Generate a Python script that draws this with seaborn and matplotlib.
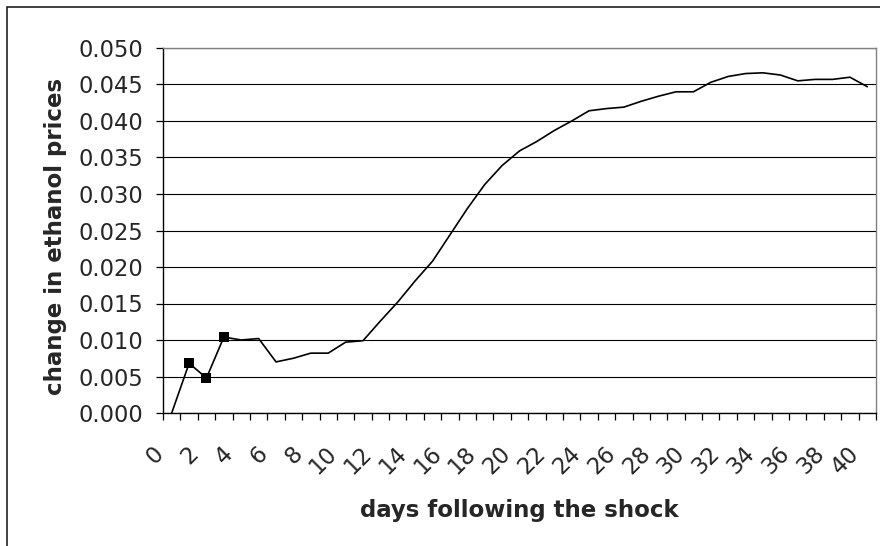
import matplotlib
matplotlib.use("Agg")
import matplotlib.pyplot as plt
import matplotlib.transforms as mtransforms
from matplotlib.patches import Rectangle
from matplotlib.ticker import FormatStrFormatter, MultipleLocator
import seaborn as sns

# days after the shock and the response of ethanol prices
days = list(range(0, 41))
price_change = [
    0.0000, 0.0068, 0.0048, 0.0104, 0.0100, 0.0102, 0.0070, 0.0075, 0.0082, 0.0082,
    0.0097, 0.0099, 0.0126, 0.0152, 0.0181, 0.0208, 0.0244, 0.0280, 0.0313, 0.0339,
    0.0359, 0.0372, 0.0387, 0.0400, 0.0414, 0.0417, 0.0419, 0.0427, 0.0434, 0.0440,
    0.0440, 0.0453, 0.0461, 0.0465, 0.0466, 0.0463, 0.0455, 0.0457, 0.0457, 0.0460,
    0.0447,
]
# days drawn with a square marker
marked_days = [1, 2, 3]
marked_values = [price_change[d] for d in marked_days]
tick_days = list(range(0, 41, 2))

sns.set_style("white")
plt.rcParams["font.family"] = ["DejaVu Sans"]

fig = plt.figure(figsize=(8.8, 5.46), dpi=100)
ax = fig.add_axes([163 / 880, 1 - 413 / 546, (876 - 163) / 880, (413 - 48) / 546])

sns.lineplot(x=days, y=price_change, color="black", linewidth=1.2, ax=ax)
sns.scatterplot(x=marked_days, y=marked_values, marker="s", s=52, color="black",
                edgecolor="black", linewidth=0, ax=ax, zorder=5)

ax.set_xlim(-0.5, 40.5)
ax.set_ylim(0, 0.05)
ax.yaxis.set_major_locator(MultipleLocator(0.005))
ax.yaxis.set_major_formatter(FormatStrFormatter("%.3f"))
ax.grid(axis="y", color="black", linewidth=0.8)
ax.set_axisbelow(True)

ax.set_xticks(tick_days)
ax.set_xticklabels([str(d) for d in tick_days], rotation=45, ha="right",
                   va="center", rotation_mode="anchor", fontsize=16.3)
ax.set_xticks([d - 0.5 for d in range(0, 42)], minor=True)
ax.tick_params(axis="x", which="major", length=0, pad=26.5)
ax.tick_params(axis="x", which="minor", length=5, width=0.9, direction="out",
               color="black", bottom=True)
ax.tick_params(axis="y", which="major", length=5, width=0.9, direction="out",
               color="black", left=True, pad=9.5, labelsize=16.3)
shift = mtransforms.ScaledTranslation(-12 / 100, 0, fig.dpi_scale_trans)
for lab in ax.get_xticklabels():
    lab.set_transform(lab.get_transform() + shift)

for side in ["left", "bottom"]:
    ax.spines[side].set_color("black")
    ax.spines[side].set_linewidth(1.0)
for side in ["top", "right"]:
    ax.spines[side].set_color("#808080")
    ax.spines[side].set_linewidth(1.0)

ax.set_xlabel("days following the shock", fontsize=16.5, fontweight="bold")
ax.set_ylabel("change in ethanol prices", fontsize=16.5, fontweight="bold")
ax.xaxis.set_label_coords(0.5, -(499 - 413) / 365)
ax.yaxis.set_label_coords(-(163 - 67) / 713, 1 - (236 - 48) / 365)

# chart border (the picture is cut off on the right and bottom)
fig.patches.append(Rectangle((7 / 880, -0.1), 1.2, 1 - 7 / 546 + 0.1,
                             transform=fig.transFigure, fill=False,
                             edgecolor="#202020", linewidth=1.2))

fig.savefig("out.png", dpi=100)
